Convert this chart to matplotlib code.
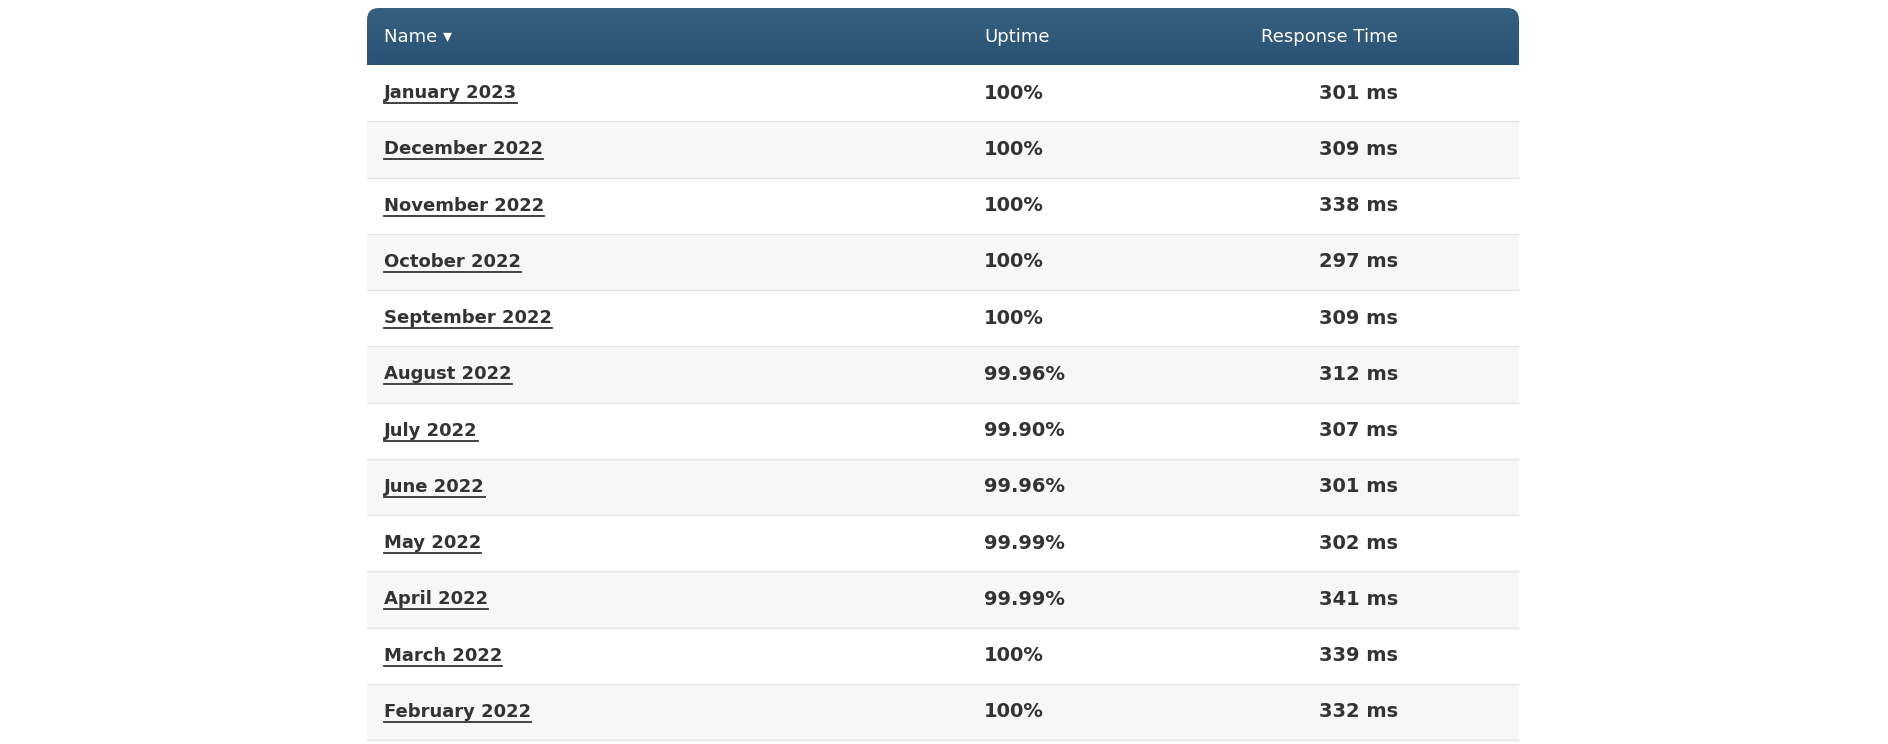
import matplotlib
matplotlib.use("Agg")
import matplotlib.pyplot as plt
from matplotlib.patches import Rectangle, FancyBboxPatch
import numpy as np

months = ["January 2023", "December 2022", "November 2022", "October 2022",
          "September 2022", "August 2022", "July 2022", "June 2022",
          "May 2022", "April 2022", "March 2022", "February 2022"]
uptime = ["100%", "100%", "100%", "100%", "100%", "99.96%", "99.90%",
          "99.96%", "99.99%", "99.99%", "100%", "100%"]
response_ms = [301, 309, 338, 297, 309, 312, 307, 301, 302, 341, 339, 332]
headers = ["Name \u25BE", "Uptime", "Response Time"]

W, H = 1888, 744
fig = plt.figure(figsize=(W/100, H/100), dpi=100)
ax = fig.add_axes([0, 0, 1, 1])
ax.set_xlim(0, W); ax.set_ylim(H, 0); ax.axis("off")

L, R = 367, 1519
htop, hbot = 8, 65
rowh = (740 - hbot) / len(months)
xname, xup, xresp = 384, 984, 1398

# header with gradient and rounded top corners
hdr = FancyBboxPatch((L, htop), R-L, hbot-htop, boxstyle="round,pad=0,rounding_size=12",
                     facecolor="none", edgecolor="none")
ax.add_patch(hdr)
grad = np.linspace(0, 1, 50)[:, None]
from matplotlib.colors import LinearSegmentedColormap
cm = LinearSegmentedColormap.from_list("g", ["#37607f", "#2a5275"])
im = ax.imshow(grad, extent=(L, R, hbot, htop), cmap=cm, aspect="auto", zorder=1)
im.set_clip_path(hdr)
ax.add_patch(Rectangle((L, htop+20), R-L, hbot-htop-20, facecolor="#2d5578", edgecolor="none", zorder=0))
hy = (htop + hbot) / 2 + 1
ax.text(xname, hy, headers[0], color="white", fontsize=13, va="center", ha="left", zorder=3)
ax.text(xup, hy, headers[1], color="white", fontsize=13, va="center", ha="left", zorder=3)
ax.text(xresp, hy, headers[2], color="white", fontsize=13, va="center", ha="right", zorder=3)

for i, (m, u, r) in enumerate(zip(months, uptime, response_ms)):
    y0 = hbot + i * rowh
    ax.add_patch(Rectangle((L, y0), R-L, rowh, facecolor="#ffffff" if i % 2 == 0 else "#f7f7f7",
                           edgecolor="none", zorder=0))
    ax.plot([L, R], [y0 + rowh, y0 + rowh], color="#e6e6e6", lw=1, zorder=1)
    yc = y0 + rowh/2
    t = ax.text(xname, yc, m, color="#333333", fontsize=13, fontweight="bold",
                va="center", ha="left", zorder=3)
    fig.canvas.draw() if i == 0 else None
    bb = t.get_window_extent(renderer=fig.canvas.get_renderer())
    ax.plot([xname, xname + bb.width], [yc + 10, yc + 10], color="#333333", lw=1.3, zorder=3)
    ax.text(xup, yc, u, color="#333333", fontsize=14, fontweight="bold", va="center", ha="left", zorder=3)
    ax.text(xresp, yc, f"{r} ms", color="#333333", fontsize=14, fontweight="bold",
            va="center", ha="right", zorder=3)

fig.savefig("out.png", dpi=100, facecolor="white")
